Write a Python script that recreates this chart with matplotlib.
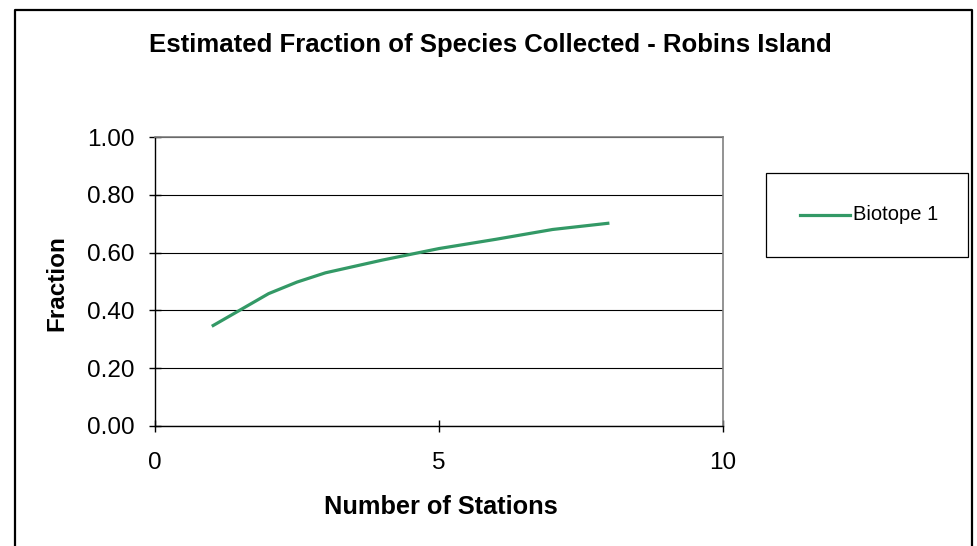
import matplotlib
matplotlib.use("Agg")
import matplotlib.pyplot as plt
from matplotlib.lines import Line2D

plt.rcParams['font.family'] = ['Liberation Sans', 'DejaVu Sans']

stations = [1, 2, 2.5, 3, 4, 5, 6, 7, 8]
fraction = [0.345, 0.458, 0.498, 0.530, 0.574, 0.614, 0.646, 0.680, 0.702]
series_name = "Biotope 1"
title = "Estimated Fraction of Species Collected - Robins Island"
xlabel = "Number of Stations"
ylabel = "Fraction"
xticks = [0, 5, 10]
yticks = [0.0, 0.2, 0.4, 0.6, 0.8, 1.0]

W, H = 977, 546
fig = plt.figure(figsize=(W / 100, H / 100), dpi=100)
ax = fig.add_axes([155 / W, 1 - 426 / H, (723 - 155) / W, (426 - 137) / H])

ax.plot(stations, fraction, color='#339966', lw=2.3, solid_capstyle='butt',
        label=series_name, zorder=3)

ax.set_xlim(0, 10)
ax.set_ylim(0, 1)
ax.set_xticks(xticks)
ax.set_xticklabels([str(t) for t in xticks])
ax.set_yticks(yticks)
ax.set_yticklabels([f"{t:.2f}" for t in yticks])
ax.yaxis.grid(True, color='black', lw=0.8)
ax.set_axisbelow(True)

for s in ['top', 'right']:
    ax.spines[s].set_color('#808080')
    ax.spines[s].set_linewidth(1.2)
for s in ['left', 'bottom']:
    ax.spines[s].set_color('black')
    ax.spines[s].set_linewidth(1.0)

ax.tick_params(axis='both', direction='inout', length=9, width=1.0,
               labelsize=17.5, colors='black')
ax.tick_params(axis='y', pad=10)
ax.tick_params(axis='x', pad=14)

fig.text(490 / W, 1 - 45 / H, title, ha='center', va='center',
         fontsize=18.5, fontweight='bold')
fig.text(441 / W, 1 - 507 / H, xlabel, ha='center', va='center',
         fontsize=18.3, fontweight='bold')
fig.text(57 / W, 1 - 283 / H, ylabel, ha='center', va='center',
         fontsize=17.5, fontweight='bold', rotation=90)

# legend box
lx0, ly0, lx1, ly1 = 766, 173, 968, 257
fig.patches.append(plt.Rectangle((lx0 / W, 1 - ly1 / H), (lx1 - lx0) / W,
                                 (ly1 - ly0) / H, transform=fig.transFigure,
                                 fill=False, edgecolor='black', lw=0.9))
fig.lines.append(Line2D([800 / W, 850 / W], [1 - 215 / H, 1 - 215 / H],
                        transform=fig.transFigure, color='#339966', lw=2.3))
fig.text(853 / W, 1 - 215 / H, series_name, ha='left', va='center',
         fontsize=14.5)

# outer chart border (open at bottom)
bx = [15.5 / W, 15.5 / W, 971.5 / W, 971.5 / W]
by = [0, 1 - 9.5 / H, 1 - 9.5 / H, 0]
fig.lines.append(Line2D(bx, by, transform=fig.transFigure, color='black', lw=1.6))

fig.savefig('out.png', dpi=100)
